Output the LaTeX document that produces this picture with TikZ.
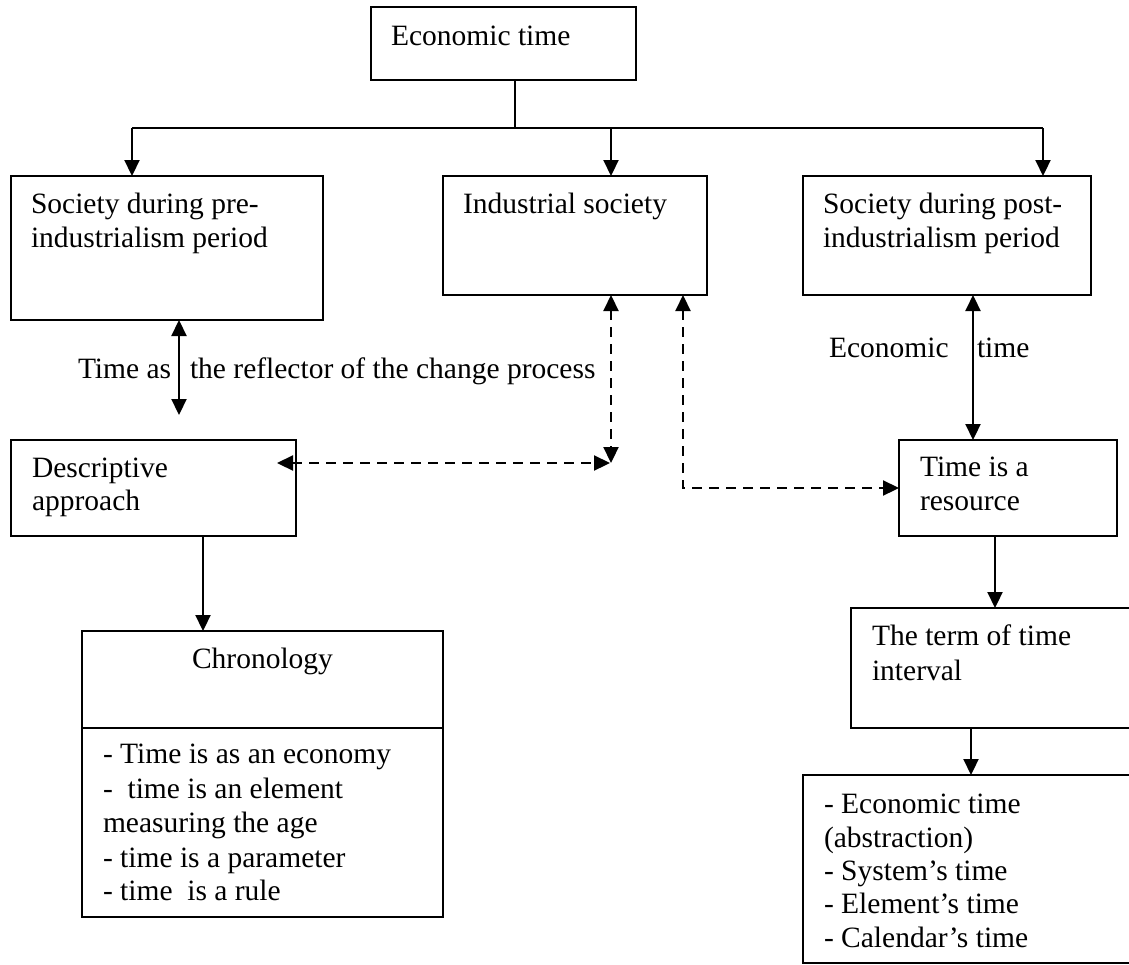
\documentclass[tikz,border=0pt]{standalone}
\usepackage{fontspec}
\setmainfont{Liberation Serif}
\usetikzlibrary{arrows.meta}
\begin{document}
\begin{tikzpicture}[x=1pt,y=-1pt,
  box/.style={draw, line width=2.3pt, inner sep=0pt, outer sep=0pt},
  txt/.style={anchor=base west, inner sep=0pt, outer sep=0pt, font=\fontsize{29.5}{34}\selectfont},
  ctxt/.style={anchor=base, inner sep=0pt, outer sep=0pt, font=\fontsize{29.5}{34}\selectfont},
  conn/.style={line width=2.2pt},
  arr/.style={conn, -{Triangle[length=16pt,width=15pt]}},
  biarr/.style={conn, {Triangle[length=16pt,width=15pt]}-{Triangle[length=16pt,width=15pt]}},
  dsh/.style={dash pattern=on 10pt off 7pt}]
\fill[white] (0,0) rectangle (1129,964);
\useasboundingbox (0,0) rectangle (1129,964);

% boxes
\node[box, minimum width=265, minimum height=73] (top) at (503.5,43.5) {};
\node[box, minimum width=312, minimum height=144] (b1) at (167,248) {};
\node[box, minimum width=264, minimum height=119] (b2) at (575,235.5) {};
\node[box, minimum width=288, minimum height=119] (b3) at (947,235.5) {};
\node[box, minimum width=285, minimum height=96] (desc) at (153.5,488) {};
\node[box, minimum width=218, minimum height=96] (res) at (1008,488) {};
\node[box, minimum width=290, minimum height=120] (term) at (996,668) {};
\node[box, minimum width=340, minimum height=188] (elist) at (973,869) {};
\node[box, minimum width=361, minimum height=97] (chron) at (262.5,679.5) {};
\node[box, minimum width=361, minimum height=189] (clist) at (262.5,822.5) {};

% texts
\node[txt] (t0) at (391,45) {Economic time};
\node[txt] (t1a) at (31,213) {Society during pre-};
\node[txt] (t1b) at (31,247) {industrialism period};
\node[txt] (t2) at (463,213) {Industrial society};
\node[txt] (t3a) at (823,213) {Society during post-};
\node[txt] (t3b) at (823,247) {industrialism period};
\node[txt] (l1a) at (78,378) {Time as};
\node[txt] (l1b) at (190,378) {the reflector of the change process};
\node[txt] (l2a) at (829,357) {Economic};
\node[txt] (l2b) at (977,357) {time};
\node[txt] (t4a) at (32,477) {Descriptive};
\node[txt] (t4b) at (32,510) {approach};
\node[txt] (t5a) at (920,476) {Time is a};
\node[txt] (t5b) at (920,510) {resource};
\node[txt] (t6a) at (872,645) {The term of time};
\node[txt] (t6b) at (872,680) {interval};
\node[txt] (e1) at (824,813) {- Economic time};
\node[txt] (e2) at (824,847) {(abstraction)};
\node[txt] (e3) at (824,880) {- System’s time};
\node[txt] (e4) at (824,913) {- Element’s time};
\node[txt] (e5) at (824,947) {- Calendar’s time};
\node[ctxt] (ch) at (262.5,668) {Chronology};
\node[txt] (c1) at (103,763) {- Time is as an economy};
\node[txt] (c2) at (103,798) {-~ time is an element};
\node[txt] (c3) at (103,832) {measuring the age};
\node[txt] (c4) at (103,867) {- time is a parameter};
\node[txt] (c5) at (103,900) {- time~ is a rule};

% tree from top
\coordinate (j) at (515,128);
\coordinate (jl) at (132,128);
\coordinate (jm) at (611,128);
\coordinate (jr) at (1043,128);
\draw[conn] (top.south -| j) -- (j);
\draw[conn] (jl) -- (jr);
\draw[arr] (jl) -- (jl |- b1.north);
\draw[arr] (jm) -- (jm |- b2.north);
\draw[arr] (jr) -- (jr |- b3.north);

% b1 <-> descriptive (free lower end)
\coordinate (x1) at (179,415);
\draw[biarr] (b1.south -| x1) -- (x1);

% b3 <-> resource
\coordinate (x2) at (973,0);
\draw[biarr] (b3.south -| x2) -- (res.north -| x2);

% dashed connectors
\coordinate (dl) at (277,463);
\coordinate (dc) at (610,463);
\coordinate (dv) at (611,463);
\draw[biarr, dsh] (dl) -- (dc);
\draw[biarr, dsh] (b2.south -| dv) -- (dv);
\coordinate (dk) at (683,488);
\draw[biarr, dsh] (b2.south -| dk) -- (dk) -- (res.west);

% lower arrows
\coordinate (x3) at (203,0);
\draw[arr] (desc.south -| x3) -- (chron.north -| x3);
\coordinate (x4) at (995,0);
\draw[arr] (res.south -| x4) -- (term.north -| x4);
\coordinate (x5) at (971,0);
\draw[arr] (term.south -| x5) -- (elist.north -| x5);
\end{tikzpicture}
\end{document}
